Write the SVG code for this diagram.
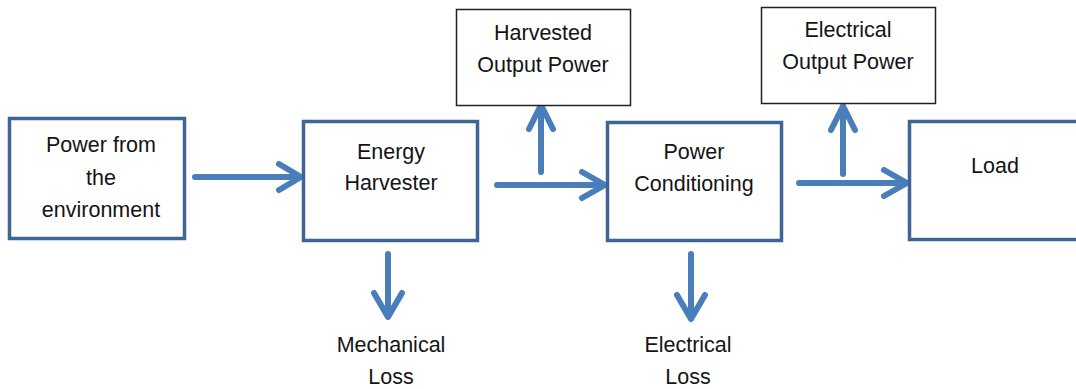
<svg xmlns="http://www.w3.org/2000/svg" width="1076" height="389" viewBox="0 0 1076 389">
<defs>
<style>
.box{fill:#fff;stroke:#3f6594;stroke-width:3.5}
.obox{fill:#fff;stroke:#222;stroke-width:1.5}
.t{font-family:"Liberation Sans",Arial,sans-serif;font-size:21.5px;fill:#141414;text-anchor:middle}
.ar{fill:none;stroke:#4a7ebb;stroke-width:6;stroke-linecap:round;stroke-linejoin:round}
</style>
</defs>
<rect width="1076" height="389" fill="#fff"/>
<g id="connectors">
<path class="ar" d="M195 177 H300 M279 164 L301 177 L279 190"/>
<path class="ar" d="M497 185 H604 M582 172 L605 185 L582 198"/>
<path class="ar" d="M541 172 V105 M529 129 L541 105 L553 129"/>
<path class="ar" d="M799 183 H906 M884 170 L907 183 L884 196"/>
<path class="ar" d="M843 174 V106 M831 130 L843 106 L855 130"/>
<path class="ar" d="M388 254 V316 M374 293 L388 317 L402 293"/>
<path class="ar" d="M691 254 V318 M677 295 L691 319 L705 295"/>
</g>
<g id="power-env">
<rect class="box" x="9.5" y="118.5" width="175" height="120"/>
<text class="t" x="101" y="152">Power from</text>
<text class="t" x="101" y="185">the</text>
<text class="t" x="101" y="217">environment</text>
</g>
<g id="energy-harvester">
<rect class="box" x="303.5" y="121.5" width="174" height="119"/>
<text class="t" x="391" y="159">Energy</text>
<text class="t" x="391" y="190">Harvester</text>
</g>
<g id="power-conditioning">
<rect class="box" x="607.5" y="122.5" width="174" height="118"/>
<text class="t" x="694" y="159">Power</text>
<text class="t" x="694" y="191">Conditioning</text>
</g>
<g id="load">
<rect class="box" x="909.5" y="121.5" width="180" height="118"/>
<text class="t" x="995" y="173">Load</text>
</g>
<g id="harvested-output">
<rect class="obox" x="456.5" y="9.5" width="174" height="96"/>
<text class="t" x="543" y="40">Harvested</text>
<text class="t" x="543" y="72">Output Power</text>
</g>
<g id="electrical-output">
<rect class="obox" x="761.5" y="7.5" width="174" height="96"/>
<text class="t" x="848" y="37">Electrical</text>
<text class="t" x="848" y="69">Output Power</text>
</g>
<g id="mechanical-loss">
<text class="t" x="391" y="352">Mechanical</text>
<text class="t" x="391" y="384">Loss</text>
</g>
<g id="electrical-loss">
<text class="t" x="688" y="352">Electrical</text>
<text class="t" x="688" y="384">Loss</text>
</g>
</svg>
